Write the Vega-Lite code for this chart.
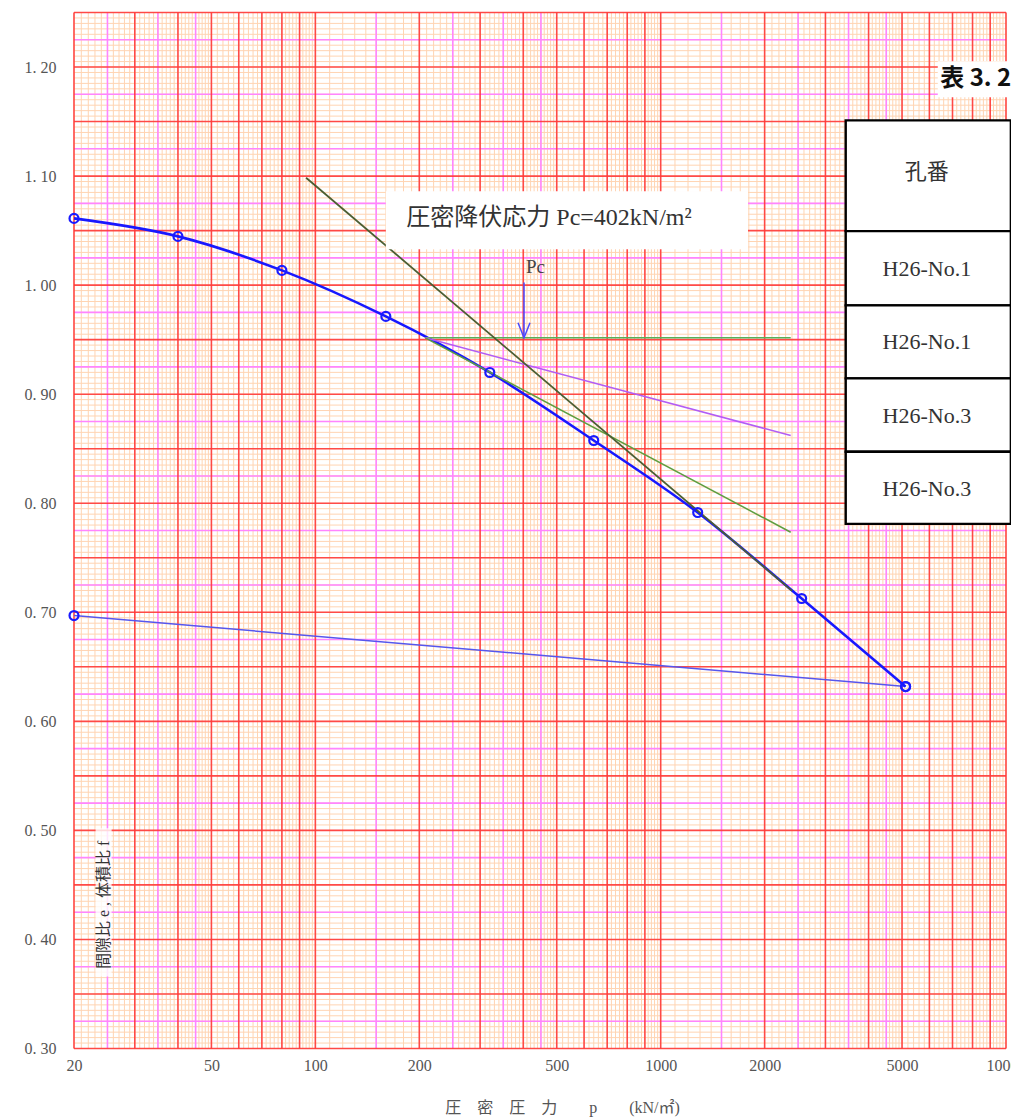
{
  "$schema": "https://vega.github.io/schema/vega-lite/v6.json",
  "autosize": {"type": "none"},
  "width": 932,
  "height": 1036,
  "padding": {"left": 74, "top": 12.5, "right": 5, "bottom": 71.5},
  "background": "white",
  "config": {
    "view": {"stroke": null},
    "axis": {"grid": false, "ticks": false, "domain": false, "zindex": 1}
  },
  "datasets": {
    "loading": [
      {"p": 20, "e": 1.0612},
      {"p": 40, "e": 1.0447},
      {"p": 80, "e": 1.0135},
      {"p": 160, "e": 0.9713},
      {"p": 320, "e": 0.9199},
      {"p": 640, "e": 0.8575},
      {"p": 1280, "e": 0.7915},
      {"p": 2560, "e": 0.7126},
      {"p": 5120, "e": 0.6319}
    ],
    "unloading": [
      {"p": 5120, "e": 0.6319},
      {"p": 20, "e": 0.697}
    ],
    "table": [
      {"label": "孔番", "top": 1.1511, "bottom": 1.0495, "mid": 1.1034, "left": 3434, "right": 10330, "cx": 5898},
      {"label": "H26-No.1", "top": 1.0495, "bottom": 0.9814, "mid": 1.0144, "left": 3434, "right": 10330, "cx": 5898},
      {"label": "H26-No.1", "top": 0.9814, "bottom": 0.9145, "mid": 0.9474, "left": 3434, "right": 10330, "cx": 5898},
      {"label": "H26-No.3", "top": 0.9145, "bottom": 0.8472, "mid": 0.8798, "left": 3434, "right": 10330, "cx": 5898},
      {"label": "H26-No.3", "top": 0.8472, "bottom": 0.7811, "mid": 0.8132, "left": 3434, "right": 10330, "cx": 5898}
    ]
  },
  "layer": [
    {
      "data": {"values": [20,21,22,23,24,25,26,27,28,29,30,31,32,33,34,35,36,37,38,39,40,41,42,43,44,45,46,47,48,49,50,52,54,56,58,60,62,64,66,68,70,72,74,76,78,80,82,84,86,88,90,92,94,96,98,100,110,120,130,140,150,160,170,180,190,200,210,220,230,240,250,260,270,280,290,300,310,320,330,340,350,360,370,380,390,400,410,420,430,440,450,460,470,480,490,500,520,540,560,580,600,620,640,660,680,700,720,740,760,780,800,820,840,860,880,900,920,940,960,980,1000,1100,1200,1300,1400,1500,1600,1700,1800,1900,2000,2100,2200,2300,2400,2500,2600,2700,2800,2900,3000,3100,3200,3300,3400,3500,3600,3700,3800,3900,4000,4100,4200,4300,4400,4500,4600,4700,4800,4900,5000,5200,5400,5600,5800,6000,6200,6400,6600,6800,7000,7200,7400,7600,7800,8000,8200,8400,8600,8800,9000,9200,9400,9600,9800,10000]},
      "mark": {"type": "rule", "color": "#ffd4b2", "strokeWidth": 1},
      "encoding": {
        "x": {
          "field": "data", "type": "quantitative",
          "scale": {"type": "log", "domain": [20, 10000], "nice": false},
          "axis": {
            "values": [20, 50, 100, 200, 500, 1000, 2000, 5000, 10000],
            "format": "d",
            "labelFlush": false,
            "labelOverlap": false,
            "labelPadding": 9,
            "labelFont": "Liberation Serif",
            "labelFontSize": 16,
            "labelColor": "#555555",
            "title": "圧　密　圧　力　　p　　(kN/㎡)",
            "titleFont": "Liberation Serif, Noto Sans CJK JP",
            "titleFontSize": 16,
            "titleFontWeight": "normal",
            "titleColor": "#555555",
            "titleX": 488,
            "titleY": 51,
            "titleAlign": "center",
            "titleBaseline": "top"
          }
        }
      }
    },
    {
      "data": {"values": [0.3,0.305,0.31,0.315,0.32,0.325,0.33,0.335,0.34,0.345,0.35,0.355,0.36,0.365,0.37,0.375,0.38,0.385,0.39,0.395,0.4,0.405,0.41,0.415,0.42,0.425,0.43,0.435,0.44,0.445,0.45,0.455,0.46,0.465,0.47,0.475,0.48,0.485,0.49,0.495,0.5,0.505,0.51,0.515,0.52,0.525,0.53,0.535,0.54,0.545,0.55,0.555,0.56,0.565,0.57,0.575,0.58,0.585,0.59,0.595,0.6,0.605,0.61,0.615,0.62,0.625,0.63,0.635,0.64,0.645,0.65,0.655,0.66,0.665,0.67,0.675,0.68,0.685,0.69,0.695,0.7,0.705,0.71,0.715,0.72,0.725,0.73,0.735,0.74,0.745,0.75,0.755,0.76,0.765,0.77,0.775,0.78,0.785,0.79,0.795,0.8,0.805,0.81,0.815,0.82,0.825,0.83,0.835,0.84,0.845,0.85,0.855,0.86,0.865,0.87,0.875,0.88,0.885,0.89,0.895,0.9,0.905,0.91,0.915,0.92,0.925,0.93,0.935,0.94,0.945,0.95,0.955,0.96,0.965,0.97,0.975,0.98,0.985,0.99,0.995,1.0,1.005,1.01,1.015,1.02,1.025,1.03,1.035,1.04,1.045,1.05,1.055,1.06,1.065,1.07,1.075,1.08,1.085,1.09,1.095,1.1,1.105,1.11,1.115,1.12,1.125,1.13,1.135,1.14,1.145,1.15,1.155,1.16,1.165,1.17,1.175,1.18,1.185,1.19,1.195,1.2,1.205,1.21,1.215,1.22,1.225,1.23,1.235,1.24,1.245,1.25]},
      "mark": {"type": "rule", "color": "#ffd4b2", "strokeWidth": 1},
      "encoding": {
        "y": {
          "field": "data", "type": "quantitative",
          "scale": {"domain": [0.3, 1.25], "nice": false, "zero": false},
          "axis": {
            "values": [0.3, 0.4, 0.5, 0.6, 0.7, 0.8, 0.9, 1.0, 1.1, 1.2],
            "labelExpr": "replace(format(datum.value, '.2f'), '.', '. ')",
            "labelPadding": 18,
            "labelFont": "Liberation Serif",
            "labelFontSize": 16,
            "labelColor": "#555555",
            "title": null
          }
        }
      }
    },
    {
      "data": {"values": [25, 35, 45, 150, 250, 350, 450, 1500, 2500, 3500, 4500]},
      "mark": {"type": "rule", "color": "#ff85ff", "strokeWidth": 1.6},
      "encoding": {
        "x": {"field": "data", "type": "quantitative", "scale": {"type": "log", "domain": [20, 10000], "nice": false}}
      }
    },
    {
      "data": {"values": [0.325,0.375,0.425,0.475,0.525,0.575,0.625,0.675,0.725,0.775,0.825,0.875,0.925,0.975,1.025,1.075,1.125,1.175,1.225]},
      "mark": {"type": "rule", "color": "#ff85ff", "strokeWidth": 1.6},
      "encoding": {
        "y": {"field": "data", "type": "quantitative", "scale": {"domain": [0.3, 1.25], "nice": false, "zero": false}}
      }
    },
    {
      "data": {"values": [20,30,40,50,60,70,80,90,100,200,300,400,500,600,700,800,900,1000,2000,3000,4000,5000,6000,7000,8000,9000,10000]},
      "mark": {"type": "rule", "color": "#ff3a3a", "strokeWidth": 1.6, "opacity": 0.9},
      "encoding": {
        "x": {"field": "data", "type": "quantitative", "scale": {"type": "log", "domain": [20, 10000], "nice": false}}
      }
    },
    {
      "data": {"values": [0.3,0.35,0.4,0.45,0.5,0.55,0.6,0.65,0.7,0.75,0.8,0.85,0.9,0.95,1.0,1.05,1.1,1.15,1.2,1.25]},
      "mark": {"type": "rule", "color": "#ff3a3a", "strokeWidth": 1.6, "opacity": 0.9},
      "encoding": {
        "y": {"field": "data", "type": "quantitative", "scale": {"domain": [0.3, 1.25], "nice": false, "zero": false}}
      }
    },
    {
      "data": {"values": [{"p1": 23.1, "p2": 25.7, "e1": 0.502, "e2": 0.366}]},
      "mark": {"type": "rect", "color": "white", "opacity": 0.8},
      "encoding": {
        "x": {"field": "p1", "type": "quantitative", "scale": {"type": "log", "domain": [20, 10000], "nice": false}},
        "x2": {"field": "p2"},
        "y": {"field": "e1", "type": "quantitative", "scale": {"domain": [0.3, 1.25], "nice": false, "zero": false}},
        "y2": {"field": "e2"}
      }
    },
    {
      "data": {"values": [{"p": 24.35, "e": 0.4318, "t": "間隙比 e , 体積比 f"}]},
      "mark": {"type": "text", "font": "Liberation Serif, Noto Sans CJK JP", "fontSize": 16, "color": "#333333", "angle": 270, "align": "center", "baseline": "middle"},
      "encoding": {
        "x": {"field": "p", "type": "quantitative", "scale": {"type": "log", "domain": [20, 10000], "nice": false}},
        "y": {"field": "e", "type": "quantitative", "scale": {"domain": [0.3, 1.25], "nice": false, "zero": false}},
        "text": {"field": "t"}
      }
    },
    {
      "data": {"name": "unloading"},
      "mark": {"type": "line", "color": "#5656ee", "strokeWidth": 1.5},
      "encoding": {
        "x": {"field": "p", "type": "quantitative", "scale": {"type": "log", "domain": [20, 10000], "nice": false}},
        "y": {"field": "e", "type": "quantitative", "scale": {"domain": [0.3, 1.25], "nice": false, "zero": false}},
        "order": {"field": "p", "sort": "descending"}
      }
    },
    {
      "data": {"name": "loading"},
      "mark": {"type": "line", "color": "#1818ff", "strokeWidth": 2.6, "interpolate": "monotone"},
      "encoding": {
        "x": {"field": "p", "type": "quantitative", "scale": {"type": "log", "domain": [20, 10000], "nice": false}},
        "y": {"field": "e", "type": "quantitative", "scale": {"domain": [0.3, 1.25], "nice": false, "zero": false}}
      }
    },
    {
      "data": {"values": [{"p": 208, "e": 0.9517}, {"p": 2380, "e": 0.9517}]},
      "mark": {"type": "line", "color": "#58b058", "strokeWidth": 1.5},
      "encoding": {
        "x": {"field": "p", "type": "quantitative", "scale": {"type": "log", "domain": [20, 10000], "nice": false}},
        "y": {"field": "e", "type": "quantitative", "scale": {"domain": [0.3, 1.25], "nice": false, "zero": false}}
      }
    },
    {
      "data": {"values": [{"p": 208, "e": 0.9517}, {"p": 2380, "e": 0.8621}]},
      "mark": {"type": "line", "color": "#b25cf5", "strokeWidth": 1.5},
      "encoding": {
        "x": {"field": "p", "type": "quantitative", "scale": {"type": "log", "domain": [20, 10000], "nice": false}},
        "y": {"field": "e", "type": "quantitative", "scale": {"domain": [0.3, 1.25], "nice": false, "zero": false}}
      }
    },
    {
      "data": {"values": [{"p": 208, "e": 0.9517}, {"p": 2380, "e": 0.7734}]},
      "mark": {"type": "line", "color": "#5e9e40", "strokeWidth": 1.5},
      "encoding": {
        "x": {"field": "p", "type": "quantitative", "scale": {"type": "log", "domain": [20, 10000], "nice": false}},
        "y": {"field": "e", "type": "quantitative", "scale": {"domain": [0.3, 1.25], "nice": false, "zero": false}}
      }
    },
    {
      "data": {"values": [{"p": 94, "e": 1.0985}, {"p": 2400, "e": 0.7196}]},
      "mark": {"type": "line", "color": "#4b5e32", "strokeWidth": 1.8},
      "encoding": {
        "x": {"field": "p", "type": "quantitative", "scale": {"type": "log", "domain": [20, 10000], "nice": false}},
        "y": {"field": "e", "type": "quantitative", "scale": {"domain": [0.3, 1.25], "nice": false, "zero": false}}
      }
    },
    {
      "data": {"name": "loading"},
      "mark": {"type": "point", "shape": "circle", "filled": false, "color": "#1a1aff", "strokeWidth": 2.2, "size": 80, "opacity": 1},
      "encoding": {
        "x": {"field": "p", "type": "quantitative", "scale": {"type": "log", "domain": [20, 10000], "nice": false}},
        "y": {"field": "e", "type": "quantitative", "scale": {"domain": [0.3, 1.25], "nice": false, "zero": false}}
      }
    },
    {
      "data": {"name": "unloading"},
      "mark": {"type": "point", "shape": "circle", "filled": false, "color": "#1a1aff", "strokeWidth": 2.2, "size": 80, "opacity": 1},
      "encoding": {
        "x": {"field": "p", "type": "quantitative", "scale": {"type": "log", "domain": [20, 10000], "nice": false}},
        "y": {"field": "e", "type": "quantitative", "scale": {"domain": [0.3, 1.25], "nice": false, "zero": false}}
      }
    },
    {
      "data": {"values": [{"p": 402, "top": 1.0025, "tip": 0.9517}]},
      "mark": {"type": "rule", "color": "#4a4aff", "strokeWidth": 1.5},
      "encoding": {
        "x": {"field": "p", "type": "quantitative", "scale": {"type": "log", "domain": [20, 10000], "nice": false}},
        "y": {"field": "top", "type": "quantitative", "scale": {"domain": [0.3, 1.25], "nice": false, "zero": false}},
        "y2": {"field": "tip"}
      }
    },
    {
      "data": {"values": [{"p": 402, "tip": 0.9517}]},
      "mark": {"type": "point", "shape": "M-0.4,-1L0,0L0.4,-1", "filled": false, "color": "#4a4aff", "strokeWidth": 1.5, "size": 900, "opacity": 1},
      "encoding": {
        "x": {"field": "p", "type": "quantitative", "scale": {"type": "log", "domain": [20, 10000], "nice": false}},
        "y": {"field": "tip", "type": "quantitative", "scale": {"domain": [0.3, 1.25], "nice": false, "zero": false}}
      }
    },
    {
      "data": {"values": [{"p": 434, "e": 1.0162, "t": "Pc"}]},
      "mark": {"type": "text", "font": "Liberation Serif", "fontSize": 19, "color": "#444444", "align": "center", "baseline": "middle"},
      "encoding": {
        "x": {"field": "p", "type": "quantitative", "scale": {"type": "log", "domain": [20, 10000], "nice": false}},
        "y": {"field": "e", "type": "quantitative", "scale": {"domain": [0.3, 1.25], "nice": false, "zero": false}},
        "text": {"field": "t"}
      }
    },
    {
      "data": {"values": [{"p1": 160, "p2": 1790, "e1": 1.0862, "e2": 1.0328}]},
      "mark": {"type": "rect", "color": "white", "opacity": 1},
      "encoding": {
        "x": {"field": "p1", "type": "quantitative", "scale": {"type": "log", "domain": [20, 10000], "nice": false}},
        "x2": {"field": "p2"},
        "y": {"field": "e1", "type": "quantitative", "scale": {"domain": [0.3, 1.25], "nice": false, "zero": false}},
        "y2": {"field": "e2"}
      }
    },
    {
      "data": {"values": [{"p": 475, "e": 1.062, "t": "圧密降伏応力 Pc=402kN/m²"}]},
      "mark": {"type": "text", "font": "Liberation Serif, Noto Sans CJK JP", "fontSize": 24, "color": "#333333", "align": "center", "baseline": "middle"},
      "encoding": {
        "x": {"field": "p", "type": "quantitative", "scale": {"type": "log", "domain": [20, 10000], "nice": false}},
        "y": {"field": "e", "type": "quantitative", "scale": {"domain": [0.3, 1.25], "nice": false, "zero": false}},
        "text": {"field": "t"}
      }
    },
    {
      "data": {"values": [{"p1": 6345, "p2": 10800, "e1": 1.2052, "e2": 1.1722}]},
      "mark": {"type": "rect", "color": "white", "opacity": 1},
      "encoding": {
        "x": {"field": "p1", "type": "quantitative", "scale": {"type": "log", "domain": [20, 10000], "nice": false}},
        "x2": {"field": "p2"},
        "y": {"field": "e1", "type": "quantitative", "scale": {"domain": [0.3, 1.25], "nice": false, "zero": false}},
        "y2": {"field": "e2"}
      }
    },
    {
      "data": {"values": [{"p": 6450, "e": 1.1887, "t": "表 3. 2"}]},
      "mark": {"type": "text", "font": "Noto Sans CJK JP", "fontSize": 24, "fontWeight": "bold", "color": "#111111", "align": "left", "baseline": "middle"},
      "encoding": {
        "x": {"field": "p", "type": "quantitative", "scale": {"type": "log", "domain": [20, 10000], "nice": false}},
        "y": {"field": "e", "type": "quantitative", "scale": {"domain": [0.3, 1.25], "nice": false, "zero": false}},
        "text": {"field": "t"}
      }
    },
    {
      "data": {"name": "table"},
      "mark": {"type": "rect", "fill": "white", "stroke": "black", "strokeWidth": 2.4, "opacity": 1},
      "encoding": {
        "x": {"field": "left", "type": "quantitative", "scale": {"type": "log", "domain": [20, 10000], "nice": false}},
        "x2": {"field": "right"},
        "y": {"field": "top", "type": "quantitative", "scale": {"domain": [0.3, 1.25], "nice": false, "zero": false}},
        "y2": {"field": "bottom"}
      }
    },
    {
      "data": {"name": "table"},
      "mark": {"type": "text", "font": "Liberation Serif, Noto Sans CJK JP", "fontSize": 22, "color": "#333333", "align": "center", "baseline": "middle"},
      "encoding": {
        "x": {"field": "cx", "type": "quantitative", "scale": {"type": "log", "domain": [20, 10000], "nice": false}},
        "y": {"field": "mid", "type": "quantitative", "scale": {"domain": [0.3, 1.25], "nice": false, "zero": false}},
        "text": {"field": "label"}
      }
    }
  ]
}
